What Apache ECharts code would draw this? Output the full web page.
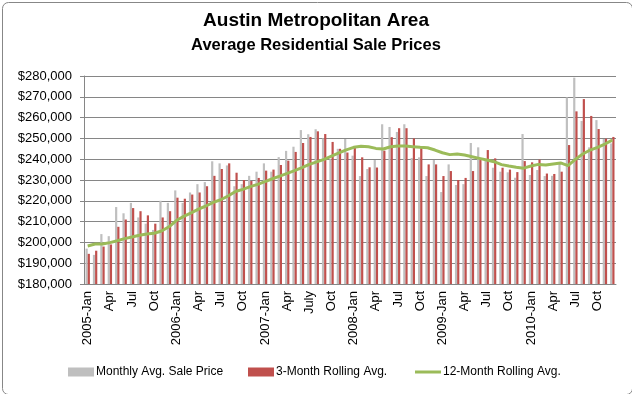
<!DOCTYPE html>
<html>
<head>
<meta charset="utf-8">
<script src="https://cdn.jsdelivr.net/npm/echarts@6/dist/echarts.min.js"></script>
<style>
html,body{margin:0;padding:0;background:#fff;}
#c{width:632px;height:394px;}
</style>
</head>
<body>
<div id="c"></div>
<script>
// Month categories (Jan 2005 - Dec 2010); only every third one is labelled
var categories = [
 '2005-Jan','Feb','Mar','Apr','May','Jun','Jul','Aug','Sep','Oct','Nov','Dec',
 '2006-Jan','Feb','Mar','Apr','May','Jun','Jul','Aug','Sep','Oct','Nov','Dec',
 '2007-Jan','Feb','Mar','Apr','May','Jun','July','Aug','Sep','Oct','Nov','Dec',
 '2008-Jan','Feb','Mar','Apr','May','Jun','Jul','Aug','Sep','Oct','Nov','Dec',
 '2009-Jan','Feb','Mar','Apr','May','Jun','Jul','Aug','Sep','Oct','Nov','Dec',
 '2010-Jan','Feb','Mar','Apr','May','Jun','Jul','Aug','Sep','Oct','Nov','Dec'
];
// values in thousands of dollars
var monthlyAvg = [
 197,194,204,203,217,214,219,212,209,206,220,219,
 225,219,224,228,229,239,238,237,227,228,232,234,
 238,234,241,244,246,254,252,254.4,250,240,245,249.7,
 241.7,231.9,235.3,239.6,256.8,255.5,253.1,256.8,240.6,240.9,231.9,239.6,
 224.2,237.5,227.6,228,247.8,245.7,240,235.9,234,233.7,231.1,252.1,
 232.4,234.8,231.9,232,238,269.7,279.2,258.4,245.7,258.8,249.7,247.6
];
var rolling3 = [
 194.5,196,198,199,207.5,211,216.5,215,213,209,212,215,
 221.5,221,223,224,227,232,235.3,238,233.5,230,229.5,231,
 234.5,235,237.2,239.3,243.5,247.8,250.7,253.4,252.1,248.3,245,243.2,
 245.5,240.9,236.1,236,244.1,250.6,254.9,254.9,250,245.3,237.5,237.5,
 231.9,234.3,230,231,234.3,239.6,244.4,240.4,235.9,235,233.8,239.1,
 238.5,239.8,233.1,232.9,234,246.8,263,268.9,260.8,254.5,249.9,250.7
];
var rolling12 = [
 198.3,199.2,199.2,199.9,200.8,201.8,202.6,203.4,204,204.4,205.5,207.5,
 210.5,212.5,214.2,216,217.5,219.2,220.5,222.3,224.5,225.5,226.8,227.9,
 229.2,230.6,231.9,233.2,234.5,235.9,237.5,238.7,239.9,241.5,243,244.5,
 245.7,246.2,246,245.2,244.9,246,246.3,246.3,246,245.7,245.5,244.4,
 243.1,242.2,242.5,242,241.2,240.4,239.6,238.8,237.4,236.7,236.1,235.7,
 236.7,237.5,237.2,237.7,238.2,236.9,239.9,242.5,244.4,245.7,247.3,249.2
];
var yTicks = {min: 180000, max: 280000, interval: 10000};
var seriesNames = ['Monthly Avg. Sale Price','3-Month Rolling Avg.','12-Month Rolling Avg.'];

function k(a){ return a.map(function(v){ return Math.round(v*1000); }); }

var FONT = 'Liberation Sans, Arial, sans-serif';
var legendText = {fontFamily: FONT, fontSize: 12, color: '#000', padding: [0,0,0,-3]};
var chart = echarts.init(document.getElementById('c'), null, {renderer:'canvas'});
chart.setOption({
  animation: false,
  backgroundColor: '#fff',
  title: [
    {text: 'Austin Metropolitan Area', left: 'center', top: 11, padding: 0,
     textStyle: {fontFamily: FONT, fontSize: 19, fontWeight: 'bold', color: '#000'}},
    {text: 'Average Residential Sale Prices', left: 'center', top: 37, padding: 0,
     textStyle: {fontFamily: FONT, fontSize: 16.5, fontWeight: 'bold', color: '#000'}}
  ],
  graphic: [{
    type: 'rect', left: 0, top: 0, z: -1,
    shape: {x: 0.5, y: 0.5, width: 630, height: 392, r: 6},
    style: {fill: 'none', stroke: '#878787', lineWidth: 1}
  }],
  legend: [
    {data: [{name: seriesNames[0], icon: 'rect'}], left: 68, top: 366, padding: 0, itemWidth: 26, itemHeight: 9, textStyle: legendText},
    {data: [{name: seriesNames[1], icon: 'rect'}], left: 248, top: 366, padding: 0, itemWidth: 26, itemHeight: 9, textStyle: legendText},
    {data: [{name: seriesNames[2], icon: 'rect', itemStyle: {color: '#9BBB59'}}], left: 415, top: 366, padding: 0, itemWidth: 26, itemHeight: 3, textStyle: legendText}
  ],
  grid: {left: 84, right: 16, top: 76, bottom: 110, containLabel: false},
  xAxis: {
    type: 'category', data: categories, boundaryGap: true,
    axisLine: {lineStyle: {color: '#868686'}},
    axisTick: {show: false},
    axisLabel: {interval: 2, rotate: 90, fontFamily: FONT, fontSize: 13, color: '#000', margin: 7}
  },
  yAxis: {
    type: 'value', min: yTicks.min, max: yTicks.max, interval: yTicks.interval,
    axisLine: {show: true, lineStyle: {color: '#868686'}},
    axisTick: {show: true, length: 4, lineStyle: {color: '#868686'}},
    splitLine: {lineStyle: {color: '#868686', width: 1}},
    axisLabel: {fontFamily: FONT, fontSize: 13, color: '#000', margin: 12,
      formatter: function(v){ return '$' + v.toLocaleString('en-US'); }}
  },
  series: [
    {name: seriesNames[0], type: 'bar', data: k(monthlyAvg), barWidth: 2.2, barGap: '0%',
     itemStyle: {color: '#BFBFBF'}},
    {name: seriesNames[1], type: 'bar', data: k(rolling3), barWidth: 2.2, barGap: '0%',
     itemStyle: {color: '#C0504D'}},
    {name: seriesNames[2], type: 'line', data: k(rolling12), symbol: 'none', showSymbol: false,
     lineStyle: {color: '#9BBB59', width: 3}, itemStyle: {color: '#9BBB59'}, z: 5}
  ]
});
</script>
</body>
</html>
